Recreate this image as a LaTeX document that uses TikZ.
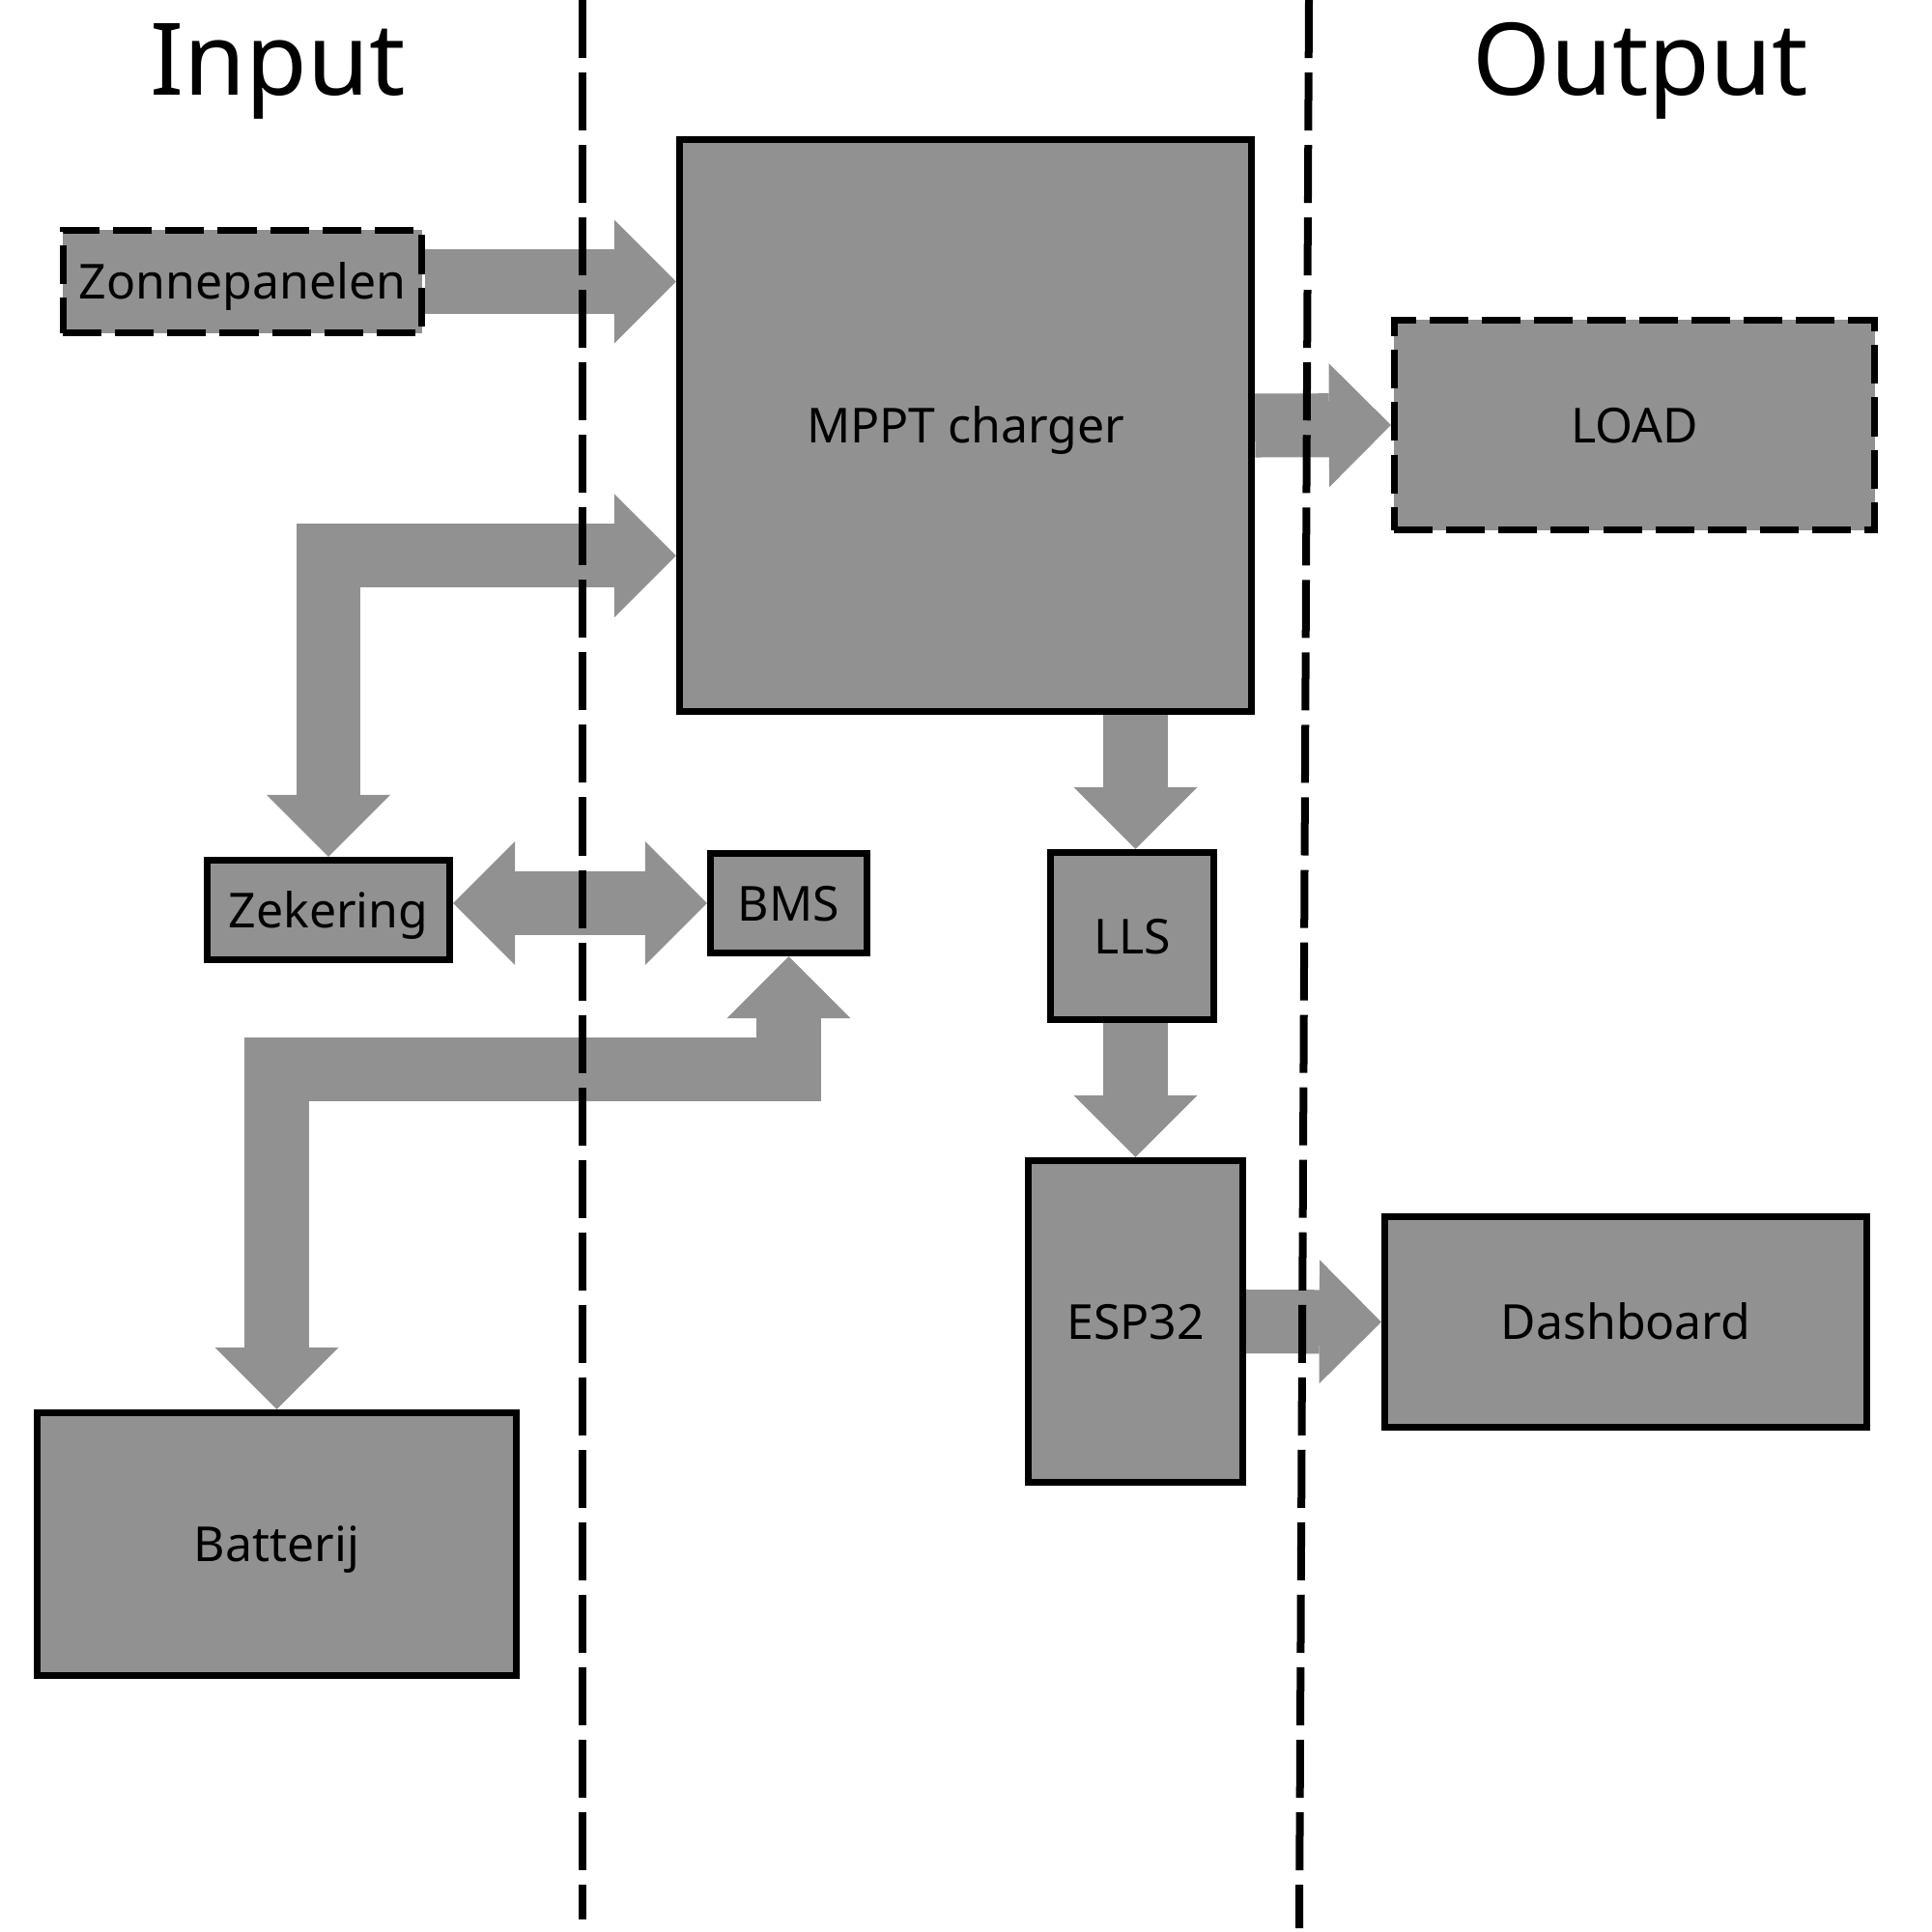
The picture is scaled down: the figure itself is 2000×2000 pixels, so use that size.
\documentclass[tikz,border=0pt]{standalone}
\usepackage{fontspec}
\setmainfont{Noto Sans}
\usetikzlibrary{arrows.meta,calc}
\definecolor{boxgray}{RGB}{145,145,145}

\tikzset{
  bigtip/.tip={Triangle[width=1.28cm,length=0.64cm,line width=0pt]},
  box/.style={draw=black, line width=0.07cm, fill=boxgray, inner sep=0pt,
    text height=0.36cm, text depth=0pt, font=\fontsize{14.2}{17}\selectfont},
  dbox/.style={box, dash pattern=on 0.4cm off 0.14cm},
  flow/.style={draw=boxgray, line width=0.66cm, line join=miter, -bigtip},
  flow2/.style={draw=boxgray, line width=0.66cm, line join=miter, bigtip-bigtip},
  divider/.style={draw=black, line width=0.08cm, dash pattern=on 0.6cm off 0.15cm},
  title/.style={font=\fontsize{29.5}{35}\selectfont, anchor=base, inner sep=0pt}
}

\begin{document}
\begin{tikzpicture}[x=0.01cm,y=-0.01cm]
  \useasboundingbox (0,0) rectangle (2000,2000);
  \fill[white] (0,0) rectangle (2000,2000);

  % column titles
  \node[title] (tin)  at (288,99)  {Input};
  \node[title] (tout) at (1698,99) {Output};

  % blocks
  \node[dbox, minimum width=3.71cm, minimum height=1.06cm] (zon)  at (251,291.5)   {Zonnepanelen};
  \node[box,  minimum width=5.92cm, minimum height=5.92cm] (mppt) at (999.5,440.5) {MPPT charger};
  \node[dbox, minimum width=4.97cm, minimum height=2.17cm] (load) at (1692,440)    {LOAD};
  \node[box,  minimum width=2.51cm, minimum height=1.03cm] (zek)  at (340,942)     {Zekering};
  \node[box,  minimum width=1.62cm, minimum height=1.03cm] (bms)  at (816.5,935)   {BMS};
  \node[box,  minimum width=4.96cm, minimum height=2.72cm] (bat)  at (286.5,1598.5){Batterij};
  \node[box,  minimum width=1.68cm, minimum height=1.73cm] (lls)  at (1172,969)    {LLS};
  \node[box,  minimum width=2.22cm, minimum height=3.33cm] (esp)  at (1175.5,1368) {ESP32};
  \node[box,  minimum width=4.99cm, minimum height=2.18cm] (dash) at (1683,1368.5) {Dashboard};

  % inputs on the charger
  \coordinate (in1) at (mppt.west |- zon.east);
  \coordinate (in2) at ($(mppt.south west)+(0,-165)$);

  % power and data flows
  \draw[flow]  (zon.east) -- (in1);
  \draw[flow2] (zek.north) |- (in2);
  \draw[flow2] (zek.east |- bms.west) -- (bms.west);
  \draw[flow2] (bat.north) |- ($(bms.south)+(0,117)$) -- (bms.south);
  \draw[flow]  (mppt.east) -- (load.west);
  \draw[flow]  (mppt.south -| esp.north) -- (lls.north -| esp.north);
  \draw[flow]  (lls.south -| esp.north) -- (esp.north);
  \draw[flow]  (esp.east) -- (dash.west);

  % zone separators
  \draw[divider] (603,0) -- (603,1987);
  \draw[divider] (1355,0) -- (1345,1996);
\end{tikzpicture}
\end{document}
